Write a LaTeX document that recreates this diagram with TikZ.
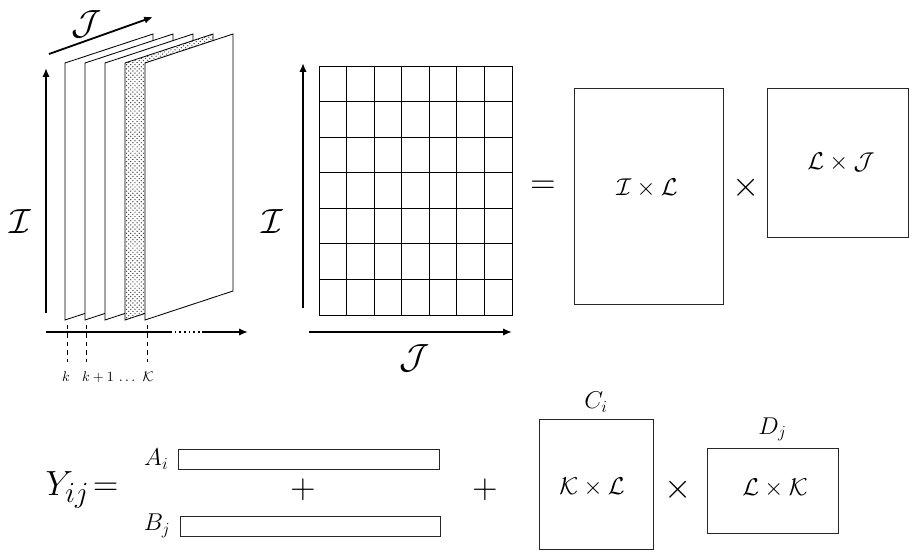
\documentclass[tikz,border=0pt]{standalone}
\usepackage{amsmath,amssymb}
\usepackage{tikz}
\usetikzlibrary{arrows.meta,positioning,patterns}
\newcommand{\pxu}{0.025cm}

\begin{document}
\begin{tikzpicture}[x=0.025cm,y=-0.025cm,
  axis/.style={line width=1.3pt,-{Latex[length=2.2mm,width=1.8mm]}},
  sheet/.style={draw=black,line width=0.6pt,fill=white},
  mat/.style={draw=black!85,line width=0.6pt,fill=white,inner sep=0pt},
  dim/.style={font=\Huge},
  inlbl/.style={font=\LARGE},
  op/.style={font=\Huge}]
  \useasboundingbox (0,0) rectangle (910,554);

  % slices of the tensor, back to front
  \foreach \s in {0,...,2} {
    \filldraw[sheet] ({65+20*\s},320) -- ({65+20*\s},63) -- ({153+20*\s},34)
      -- ({153+20*\s},291) -- cycle;
  }
  \fill[white] (125,320) -- (125,63) -- (213,34) -- (213,291) -- cycle;
  \filldraw[sheet,fill=none,pattern=crosshatch dots,pattern color=black!75]
    (125,320) -- (125,63) -- (213,34) -- (213,291) -- cycle;
  \filldraw[sheet] (145,320) -- (145,63) -- (233,34) -- (233,291) -- cycle;

  % axes of the tensor
  \coordinate (tjA) at (49,54);   \coordinate (tjB) at (153,17);
  \coordinate (tiA) at (46,313);  \coordinate (tiB) at (46,68);
  \coordinate (tkA) at (46,332);  \coordinate (tkB) at (170,332);
  \coordinate (tkC) at (203,332); \coordinate (tkD) at (248,332);
  \draw[axis] (tjA) -- (tjB);
  \draw[axis] (tiA) -- (tiB);
  \draw[line width=1.3pt] (tkA) -- (tkB);
  \draw[line width=1.3pt,dotted] (tkB) -- (tkC);
  \draw[axis] (tkC) -- (tkD);
  \node[dim] (tJ) at (87,24) {$\mathcal{J}$};
  \node[dim] (tI) at (20,222) {$\mathcal{I}$};

  % slice ticks
  \foreach \x in {67,86,147}
    \draw[dashed,line width=0.5pt] (\x,325) -- (\x,362);
  \node[anchor=base,font=\normalsize] (kA) at (66,381) {$k$};
  \node[anchor=base,font=\normalsize] (kB) at (98,381) {$k+1$};
  \node[anchor=base,font=\normalsize] (kC) at (127,381) {$\ldots$};
  \node[anchor=base,font=\normalsize] (kD) at (148,381) {$\mathcal{K}$};

  % unfolded matrix
  \draw[line width=0.6pt] (319,66) rectangle (512,315);
  \foreach \c in {1,...,6}
    \draw[line width=0.6pt] ({319+\c*193/7},66) -- ({319+\c*193/7},315);
  \foreach \r in {1,...,6}
    \draw[line width=0.6pt] (319,{66+\r*249/7}) -- (512,{66+\r*249/7});
  \coordinate (miA) at (303,308); \coordinate (miB) at (303,63);
  \coordinate (mjA) at (309,332); \coordinate (mjB) at (512,332);
  \draw[axis] (miA) -- (miB);
  \draw[axis] (mjA) -- (mjB);
  \node[dim] (mI) at (272,222) {$\mathcal{I}$};
  \node[dim] (mJ) at (415,358) {$\mathcal{J}$};

  % factorisation
  \node[op] (eqA) at (543,187) {$=$};
  \node[mat,minimum width=149*\pxu,minimum height=216*\pxu] (IL) at (648.5,196) {};
  \node[inlbl] (ILt) at (647,188) {$\mathcal{I}\times\mathcal{L}$};
  \node[op] (mulA) at (746,188) {$\times$};
  \node[mat,minimum width=141*\pxu,minimum height=149*\pxu] (LJ) at (837.5,162.5) {};
  \node[inlbl] (LJt) at (841,162) {$\mathcal{L}\times\mathcal{J}$};

  % model
  \node[font=\Huge] (Y) at (82,490) {$Y_{ij}\!=$};
  \node[mat,minimum width=261*\pxu,minimum height=20*\pxu] (A) at (308.5,459) {};
  \node[mat,minimum width=260*\pxu,minimum height=20*\pxu] (B) at (310,526) {};
  \node[font=\LARGE,left=3pt of A] (Ai) {$A_i$};
  \node[font=\LARGE,left=3pt of B] (Bj) {$B_j$};
  \node[op] (plA) at (303,490) {$+$};
  \node[op] (plB) at (485,490) {$+$};
  \node[mat,minimum width=114*\pxu,minimum height=130*\pxu] (C) at (596,484) {};
  \node[inlbl] (Ct) at (592,487) {$\mathcal{K}\times\mathcal{L}$};
  \node[font=\LARGE,above=1pt of C] (Ci) {$C_i$};
  \node[op] (mulB) at (678,490) {$\times$};
  \node[mat,minimum width=131*\pxu,minimum height=85*\pxu] (D) at (772.5,490.5) {};
  \node[inlbl] (Dt) at (775,488) {$\mathcal{L}\times\mathcal{K}$};
  \node[font=\LARGE,above=1pt of D] (Dj) {$D_j$};
\end{tikzpicture}
\end{document}
